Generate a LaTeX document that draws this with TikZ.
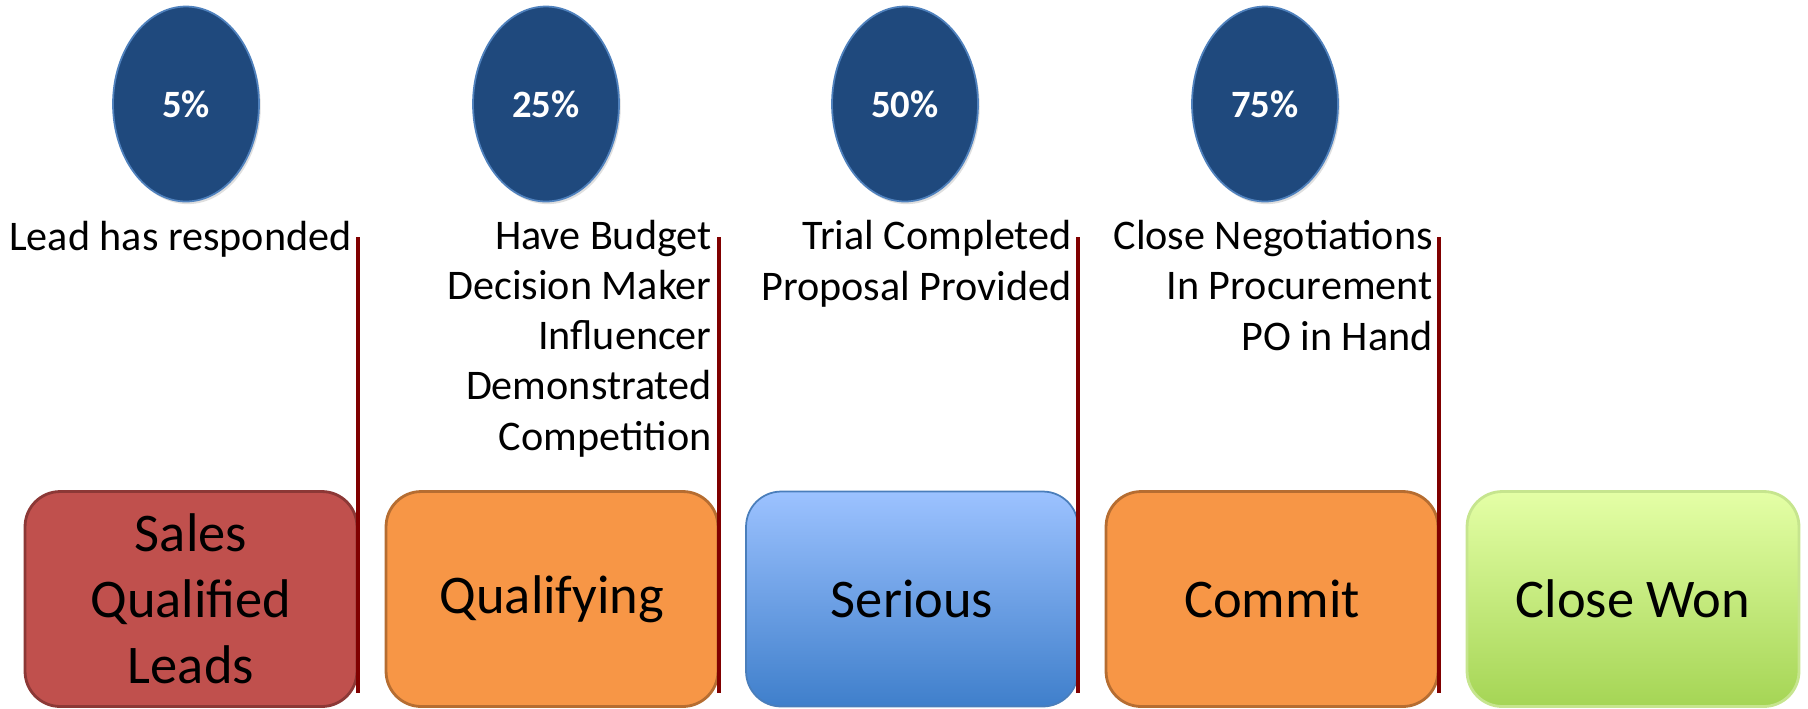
\documentclass[tikz,border=0pt]{standalone}
\usepackage{fontspec}
\setmainfont{Carlito}
\usetikzlibrary{shapes.geometric,shadows}
\definecolor{leadred}{HTML}{C0504D}
\definecolor{leadredline}{HTML}{8C3836}
\definecolor{qualorange}{HTML}{F79646}
\definecolor{qualorangeline}{HTML}{B66D31}
\definecolor{seriouslight}{HTML}{9CC2FF}
\definecolor{seriousdark}{HTML}{3F7FCB}
\definecolor{seriousline}{HTML}{4A7EBB}
\definecolor{wonlight}{HTML}{E4FFA6}
\definecolor{wondark}{HTML}{A5D555}
\definecolor{wonline}{HTML}{C6E58E}
\definecolor{probblue}{HTML}{1F497D}
\definecolor{probline}{HTML}{4F81BD}
\definecolor{divred}{HTML}{800000}

\begin{document}
\begin{tikzpicture}[x=0.02cm,y=-0.02cm]
 \tikzstyle{stage}=[rounded corners=20pt,minimum width=6.64cm,minimum
 height=4.3cm,line width=1.6pt,align=center,font=\fontsize{31}{37.5}\selectfont]
 \tikzstyle{prob}=[ellipse,fill=probblue,draw=probline,line width=1pt,inner
 sep=0pt,minimum width=2.92cm,minimum height=3.9cm,text=white,
 font=\fontsize{22}{26}\selectfont\bfseries,drop shadow={opacity=0.25,shadow xshift=1pt,shadow yshift=-1.5pt}]
 \tikzstyle{criteria}=[anchor=base east,align=right,inner sep=0pt,
 font=\fontsize{24}{28.5}\selectfont]
 \tikzstyle{divider}=[draw=divred,line width=2.3pt]
\useasboundingbox (0,0) rectangle (1808,708);
\node[stage,fill=leadred,draw=leadredline] (sql) at (191,599) {Sales\\Qualified\\Leads};
\node[stage,fill=qualorange,draw=qualorangeline] (qualifying) at (552,599) {Qualifying};
\node[stage,top color=seriouslight,bottom color=seriousdark,draw=seriousline,line width=1pt] (serious) at (912,599) {Serious};
\node[stage,fill=qualorange,draw=qualorangeline] (commit) at (1272,599) {Commit};
\node[stage,top color=wonlight,bottom color=wondark,draw=wonline] (won) at (1633,599) {Close Won};
\node[prob] (p5) at (186,104) {5\%};
\node[prob] (p25) at (546,104) {25\%};
\node[prob] (p50) at (905,104) {50\%};
\node[prob] (p75) at (1265,104) {75\%};
\foreach \x in {358,719,1078,1439}
  \draw[divider] (\x,237) -- (\x,693);
\node[criteria] (c5) at (352,250) {Lead has responded};
\node[criteria] (c25) at (712,450) {Have Budget\\Decision Maker\\Influencer\\Demonstrated\\Competition};
\node[criteria] (c50) at (1072,300) {Trial Completed\\Proposal Provided};
\node[criteria] (c75) at (1433,350) {Close Negotiations\\In Procurement\\PO in Hand};
\end{tikzpicture}
\end{document}
